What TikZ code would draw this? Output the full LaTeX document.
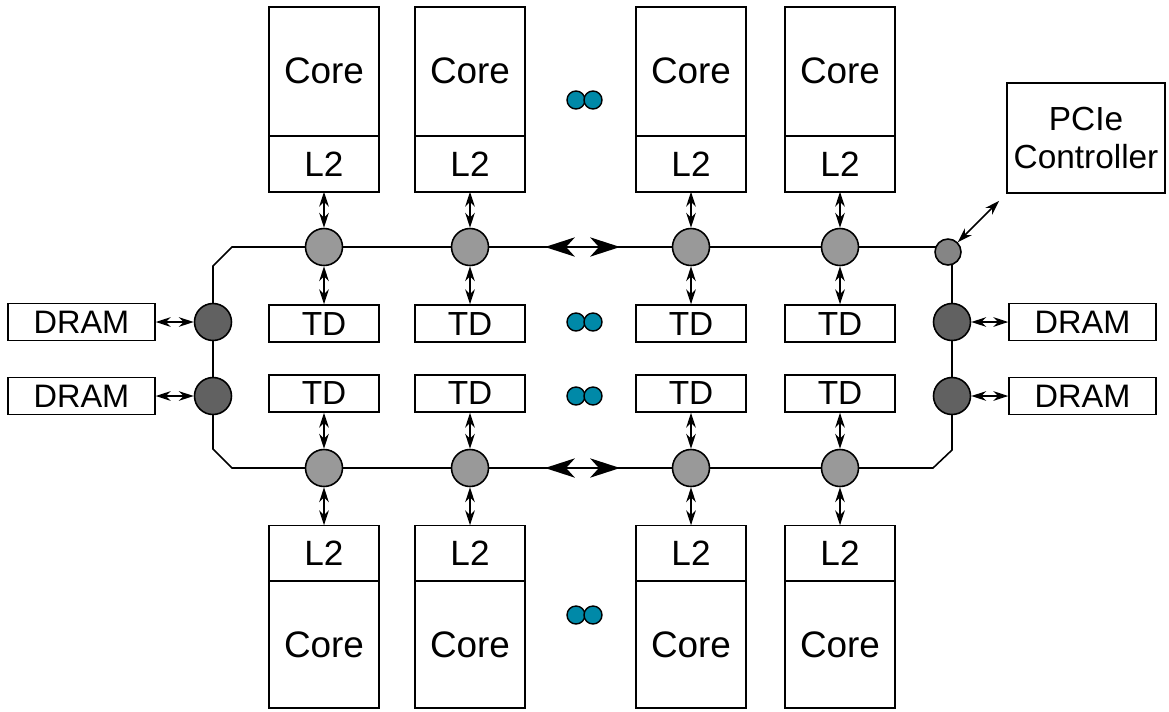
\documentclass[tikz,border=0pt]{standalone}
\usepackage{fontspec}
\setmainfont{Liberation Sans}
\usetikzlibrary{positioning,arrows.meta}
\definecolor{dotteal}{RGB}{0,137,168}
\tikzset{core box/.style={rectangle,draw,line width=0.9pt,outer sep=0pt,inner sep=0pt,minimum width=2.2cm,minimum height=2.58cm,font=\fontsize{21}{25}\selectfont},
l2 box/.style={rectangle,draw,line width=0.9pt,outer sep=0pt,inner sep=0pt,minimum width=2.2cm,minimum height=1.12cm,font=\fontsize{20}{24}\selectfont},
td box/.style={rectangle,draw,line width=0.9pt,inner sep=0pt,minimum width=2.2cm,minimum height=0.74cm,font=\fontsize{19}{23}\selectfont},
dram box/.style={rectangle,draw,line width=0.9pt,inner sep=0pt,minimum width=2.94cm,minimum height=0.74cm,font=\fontsize{18.5}{22}\selectfont},
pcie box/.style={rectangle,draw,line width=0.9pt,inner sep=0pt,minimum width=3.16cm,minimum height=2.2cm,align=center,font=\fontsize{19}{22}\selectfont},
ring node/.style={circle,fill=black!40,draw,line width=0.9pt,minimum size=0.74cm,inner sep=0pt},
mem node/.style={circle,fill=black!62,draw,line width=0.9pt,minimum size=0.74cm,inner sep=0pt},
io node/.style={circle,fill=black!48,draw,line width=0.9pt,minimum size=0.52cm,inner sep=0pt},
more dot/.style={circle,fill=dotteal,draw,line width=0.8pt,minimum size=0.36cm,inner sep=0pt},
link/.style={line width=0.9pt,{Stealth[length=8.5pt,width=5.5pt]}-{Stealth[length=8.5pt,width=5.5pt]}},
big link/.style={line width=0.9pt,{Stealth[length=17pt,width=11pt,inset=5pt]}-{Stealth[length=17pt,width=11pt,inset=5pt]}},
}

\begin{document}
\begin{tikzpicture}[x=0.02cm,y=-0.02cm]
	\useasboundingbox (0,0) rectangle (1169,711);
	% ring
	\draw[line width=0.9pt] (232,247) -- (952,247) -- (952,450) -- (933,468) -- (232,468) -- (213,449) -- (213,266) -- cycle;
	
	% ring stops, top
	\node[ring node] (T1) at (324,247) {};
	\node[ring node] (T2) at (470,247) {};
	\node[ring node] (T3) at (691,247) {};
	\node[ring node] (T4) at (840,247) {};
	% ring stops, bottom
	\node[ring node] (B1) at (324,468) {};
	\node[ring node] (B2) at (470,468) {};
	\node[ring node] (B3) at (691,468) {};
	\node[ring node] (B4) at (840,468) {};
	
	% cores, top
	\node[l2 box] (LT1) [above=0.72cm of T1] {L2};
	\node[l2 box] (LT2) [above=0.72cm of T2] {L2};
	\node[l2 box] (LT3) [above=0.72cm of T3] {L2};
	\node[l2 box] (LT4) [above=0.72cm of T4] {L2};
	\node[core box] (CT1) [above=0pt of LT1] {Core};
	\node[core box] (CT2) [above=0pt of LT2] {Core};
	\node[core box] (CT3) [above=0pt of LT3] {Core};
	\node[core box] (CT4) [above=0pt of LT4] {Core};
	
	% cores, bottom
	\node[l2 box] (LB1) [below=0.76cm of B1] {L2};
	\node[l2 box] (LB2) [below=0.76cm of B2] {L2};
	\node[l2 box] (LB3) [below=0.76cm of B3] {L2};
	\node[l2 box] (LB4) [below=0.76cm of B4] {L2};
	\node[core box,minimum height=2.54cm] (CB1) [below=0pt of LB1] {Core};
	\node[core box,minimum height=2.54cm] (CB2) [below=0pt of LB2] {Core};
	\node[core box,minimum height=2.54cm] (CB3) [below=0pt of LB3] {Core};
	\node[core box,minimum height=2.54cm] (CB4) [below=0pt of LB4] {Core};
	
	% tag directories
	\node[td box] (D1) [below=0.76cm of T1] {TD};
	\node[td box] (D2) [below=0.76cm of T2] {TD};
	\node[td box] (D3) [below=0.76cm of T3] {TD};
	\node[td box] (D4) [below=0.76cm of T4] {TD};
	\node[td box] (E1) [above=0.72cm of B1] {TD};
	\node[td box] (E2) [above=0.72cm of B2] {TD};
	\node[td box] (E3) [above=0.72cm of B3] {TD};
	\node[td box] (E4) [above=0.72cm of B4] {TD};
	
	% memory controllers
	\node[mem node] (ML1) at (213,322) {};
	\node[mem node] (ML2) at (213,396) {};
	\node[mem node] (MR1) at (952,322) {};
	\node[mem node] (MR2) at (952,396) {};
	\node[dram box] (DL1) [left=0.76cm of ML1] {DRAM};
	\node[dram box] (DL2) [left=0.76cm of ML2] {DRAM};
	\node[dram box] (DR1) [right=0.74cm of MR1] {DRAM};
	\node[dram box] (DR2) [right=0.74cm of MR2] {DRAM};
	
	% pcie
	\node[io node] (IO) at (948,252) {};
	\node[pcie box] (PC) at (1086,138) {PCIe\\Controller};
	
	% more cores
	\node[more dot] (M1a) at (576,100) {};
	\node[more dot] (M1b) at (593,100) {};
	\node[more dot] (M2a) at (576,322) {};
	\node[more dot] (M2b) at (593,322) {};
	\node[more dot] (M3a) at (576,396) {};
	\node[more dot] (M3b) at (593,396) {};
	\node[more dot] (M4a) at (576,615) {};
	\node[more dot] (M4b) at (593,615) {};
	
	\coordinate (RT1) at (545,247);
	\coordinate (RT2) at (620,247);
	\coordinate (RB1) at (545,468);
	\coordinate (RB2) at (620,468);
	
	\path[link]
	(LT1) edge (T1) (LT2) edge (T2) (LT3) edge (T3) (LT4) edge (T4)
	(T1) edge (D1) (T2) edge (D2) (T3) edge (D3) (T4) edge (D4)
	(E1) edge (B1) (E2) edge (B2) (E3) edge (B3) (E4) edge (B4)
	(B1) edge (LB1) (B2) edge (LB2) (B3) edge (LB3) (B4) edge (LB4)
	(DL1) edge (ML1) (DL2) edge (ML2)
	(MR1) edge (DR1) (MR2) edge (DR2)
	(IO) edge ([shift={(-4pt,-4pt)}]PC.south west);
	
	\draw[big link] (RT1) -- (RT2);
	\draw[big link] (RB1) -- (RB2);
	
\end{tikzpicture}
\end{document}
